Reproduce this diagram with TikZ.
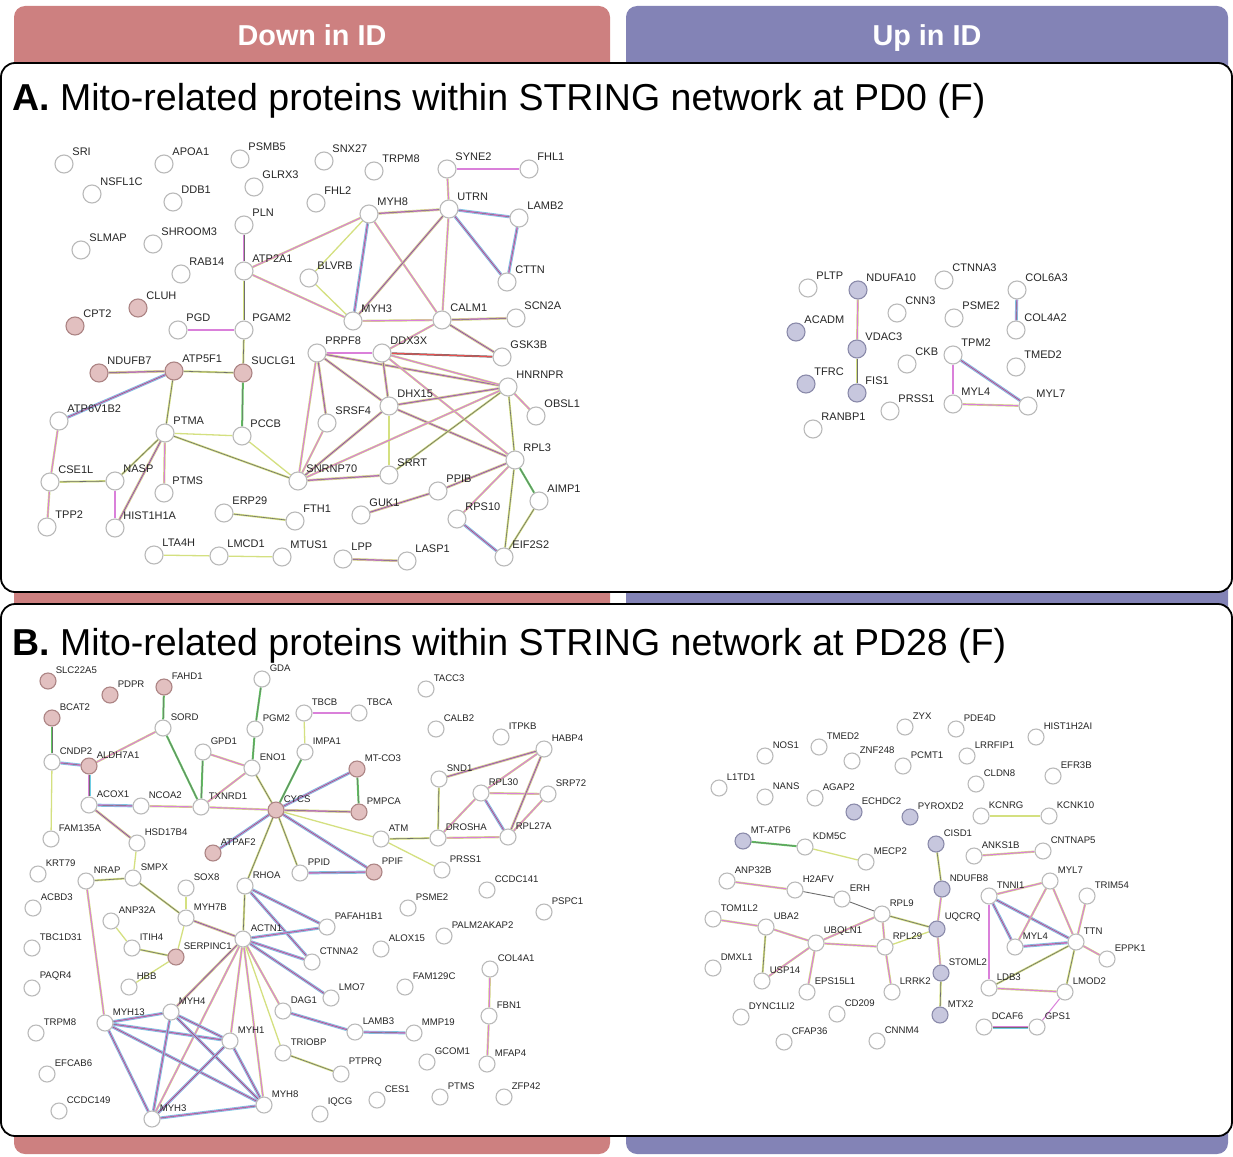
\documentclass[tikz,border=0pt]{standalone}
\usepackage{fontspec}
\setmainfont{Liberation Sans}
\usepackage{xcolor}
\definecolor{DownC}{RGB}{205,128,128}
\definecolor{UpC}{RGB}{131,131,182}
\definecolor{DownF}{RGB}{226,192,192}
\definecolor{DownL}{RGB}{172,132,132}
\definecolor{UpF}{RGB}{199,199,222}
\definecolor{UpL}{RGB}{138,138,170}
\definecolor{Txt}{RGB}{212,224,128}
\definecolor{Exp}{RGB}{218,128,218}
\definecolor{Coe}{RGB}{110,110,110}
\definecolor{Dbs}{RGB}{110,205,228}
\definecolor{Nbh}{RGB}{95,200,95}
\definecolor{Fus}{RGB}{232,80,80}
\usepackage{tikz}
\pgfdeclarelayer{back}
\pgfdeclarelayer{links}
\pgfsetlayers{back,links,main}
\tikzstyle{Prot}=[circle,draw=black!27,fill=white,line width=1.1pt,inner sep=0pt,
minimum size=18pt]
\tikzstyle{ProtD}=[Prot,draw=DownL,fill=DownF]
\tikzstyle{ProtU}=[Prot,draw=UpL,fill=UpF]
\tikzstyle{Lab}=[inner sep=0.8pt,label distance=1pt,text=black!85,
font=\fontsize{11}{11}\selectfont]
\tikzstyle{EdgeT}=[draw=Txt,line width=1.3pt]
\tikzstyle{EdgeG}=[draw=Txt,line width=2pt,postaction={draw=Coe,line width=0.6pt}]
\tikzstyle{EdgeM}=[draw=Txt,line width=2.2pt,postaction={draw=Exp,line width=1.1pt}]
\tikzstyle{EdgeF}=[draw=Txt,line width=2.6pt,postaction={draw=Exp,line width=1.5pt},
postaction={draw=Coe,line width=0.45pt}]
\tikzstyle{EdgeC}=[draw=Dbs,line width=3pt,postaction={draw=Exp,line width=1.8pt},
postaction={draw=Coe,line width=0.45pt}]
\tikzstyle{EdgeN}=[draw=Nbh,line width=2pt,postaction={draw=Coe,line width=0.5pt}]
\tikzstyle{EdgeR}=[draw=Coe,line width=2pt,postaction={draw=Fus,line width=1.1pt}]
\tikzstyle{Column}=[rounded corners=11pt]
\tikzstyle{Panel}=[draw=black,fill=white,line width=1.8pt,rounded corners=14pt]
\tikzstyle{Head}=[anchor=base,text=white,font=\fontsize{28.8}{30}\selectfont\bfseries]
\tikzstyle{Title}=[anchor=base west,inner sep=0pt,font=\fontsize{37.5}{40}\selectfont]

\begin{document}
\begin{tikzpicture}[x=1pt,y=-1pt]
    \useasboundingbox(0,0)rectangle(1233,1156);
    % group columns behind the two panels
    \begin{pgfonlayer}{back}
    \fill[Column,DownC](14,6)rectangle(610,1154);
    \fill[Column,UpC](626,6)rectangle(1228,1154);
    \draw[Panel](1,63)rectangle(1232,592);
    \draw[Panel](1,604)rectangle(1232,1136);
    \end{pgfonlayer}
    \node[Head](hdDown)at(312,46){Down in ID};
    \node[Head](hdUp)at(927,46){Up in ID};
    \node[Title](ttlA)at(12,110){\textbf{A.} Mito-related proteins within STRING network at PD0 (F)};
    \node[Title](ttlB)at(12,655){\textbf{B.} Mito-related proteins within STRING network at PD28 (F)};

    % ---- panel A, left network
        \node[Prot,label={[Lab]45:SRI}](aSRI)at(64,164){};
        \node[Prot,label={[Lab]45:APOA1}](aAPOA1)at(164,164){};
        \node[Prot,label={[Lab]45:PSMB5}](aPSMB5)at(240,159){};
        \node[Prot,label={[Lab]45:NSFL1C}](aNSFL1C)at(92,194){};
        \node[Prot,label={[Lab]45:DDB1}](aDDB1)at(173,202){};
        \node[Prot,label={[Lab]45:GLRX3}](aGLRX3)at(254,187){};
        \node[Prot,label={[Lab]45:PLN}](aPLN)at(244,225){};
        \node[Prot,label={[Lab]45:SLMAP}](aSLMAP)at(81,250){};
        \node[Prot,label={[Lab]45:SHROOM3}](aSHROOM3)at(153,244){};
        \node[Prot,label={[Lab]45:RAB14}](aRAB14)at(181,274){};
        \node[Prot,label={[Lab]45:ATP2A1}](aATP2A1)at(244,271){};
        \node[ProtD,label={[Lab]45:CLUH}](aCLUH)at(138,308){};
        \node[ProtD,label={[Lab]45:CPT2}](aCPT2)at(75,326){};
        \node[Prot,label={[Lab]45:PGD}](aPGD)at(178,330){};
        \node[Prot,label={[Lab]45:PGAM2}](aPGAM2)at(244,330){};
        \node[Prot,label={[Lab]45:SNX27}](aSNX27)at(324,161){};
        \node[Prot,label={[Lab]45:TRPM8}](aTRPM8)at(374,171){};
        \node[Prot,label={[Lab]45:SYNE2}](aSYNE2)at(447,169){};
        \node[Prot,label={[Lab]45:FHL1}](aFHL1)at(529,169){};
        \node[Prot,label={[Lab]45:FHL2}](aFHL2)at(316,203){};
        \node[Prot,label={[Lab]45:MYH8}](aMYH8)at(369,214){};
        \node[Prot,label={[Lab]45:UTRN}](aUTRN)at(449,209){};
        \node[Prot,label={[Lab]45:LAMB2}](aLAMB2)at(519,218){};
        \node[Prot,label={[Lab]45:BLVRB}](aBLVRB)at(309,278){};
        \node[Prot,label={[Lab]45:CTTN}](aCTTN)at(507,282){};
        \node[Prot,label={[Lab]45:MYH3}](aMYH3)at(353,321){};
        \node[Prot,label={[Lab]45:CALM1}](aCALM1)at(442,320){};
        \node[Prot,label={[Lab]45:SCN2A}](aSCN2A)at(516,318){};
        \node[ProtD,label={[Lab]45:NDUFB7}](aNDUFB7)at(99,373){};
        \node[ProtD,label={[Lab]45:ATP5F1}](aATP5F1)at(174,371){};
        \node[ProtD,label={[Lab]45:SUCLG1}](aSUCLG1)at(243,373){};
        \node[Prot,label={[Lab]45:ATP6V1B2}](aATP6V1B2)at(59,421){};
        \node[Prot,label={[Lab]45:PTMA}](aPTMA)at(165,433){};
        \node[Prot,label={[Lab]45:PCCB}](aPCCB)at(242,436){};
        \node[Prot,label={[Lab]45:CSE1L}](aCSE1L)at(50,482){};
        \node[Prot,label={[Lab]45:NASP}](aNASP)at(115,481){};
        \node[Prot,label={[Lab]45:PTMS}](aPTMS)at(164,493){};
        \node[Prot,label={[Lab]45:SNRNP70}](aSNRNP70)at(298,481){};
        \node[Prot,label={[Lab]45:ERP29}](aERP29)at(224,513){};
        \node[Prot,label={[Lab]45:FTH1}](aFTH1)at(295,521){};
        \node[Prot,label={[Lab]45:TPP2}](aTPP2)at(47,527){};
        \node[Prot,label={[Lab]45:HIST1H1A}](aHIST1H1A)at(115,528){};
        \node[Prot,label={[Lab]45:LTA4H}](aLTA4H)at(154,555){};
        \node[Prot,label={[Lab]45:LMCD1}](aLMCD1)at(219,556){};
        \node[Prot,label={[Lab]45:MTUS1}](aMTUS1)at(282,557){};
        \node[Prot,label={[Lab]45:PRPF8}](aPRPF8)at(317,353){};
        \node[Prot,label={[Lab]45:DDX3X}](aDDX3X)at(382,353){};
        \node[Prot,label={[Lab]45:GSK3B}](aGSK3B)at(502,357){};
        \node[Prot,label={[Lab]45:HNRNPR}](aHNRNPR)at(508,387){};
        \node[Prot,label={[Lab]45:DHX15}](aDHX15)at(389,406){};
        \node[Prot,label={[Lab]45:OBSL1}](aOBSL1)at(536,416){};
        \node[Prot,label={[Lab]45:SRSF4}](aSRSF4)at(327,423){};
        \node[Prot,label={[Lab]45:RPL3}](aRPL3)at(515,460){};
        \node[Prot,label={[Lab]45:SRRT}](aSRRT)at(389,475){};
        \node[Prot,label={[Lab]45:PPIB}](aPPIB)at(438,491){};
        \node[Prot,label={[Lab]45:AIMP1}](aAIMP1)at(539,501){};
        \node[Prot,label={[Lab]45:GUK1}](aGUK1)at(361,515){};
        \node[Prot,label={[Lab]45:RPS10}](aRPS10)at(457,519){};
        \node[Prot,label={[Lab]45:LPP}](aLPP)at(343,559){};
        \node[Prot,label={[Lab]45:LASP1}](aLASP1)at(407,561){};
        \node[Prot,label={[Lab]45:EIF2S2}](aEIF2S2)at(504,557){};
    % ---- panel A, right network
        \node[Prot,label={[Lab]45:PLTP}](aPLTP)at(808,288){};
        \node[ProtU,label={[Lab]45:NDUFA10}](aNDUFA10)at(858,290){};
        \node[Prot,label={[Lab]45:CTNNA3}](aCTNNA3)at(944,280){};
        \node[Prot,label={[Lab]45:COL6A3}](aCOL6A3)at(1017,290){};
        \node[Prot,label={[Lab]45:CNN3}](aCNN3)at(897,313){};
        \node[Prot,label={[Lab]45:PSME2}](aPSME2)at(954,318){};
        \node[Prot,label={[Lab]45:COL4A2}](aCOL4A2)at(1016,330){};
        \node[ProtU,label={[Lab]45:ACADM}](aACADM)at(796,332){};
        \node[ProtU,label={[Lab]45:VDAC3}](aVDAC3)at(857,349){};
        \node[Prot,label={[Lab]45:CKB}](aCKB)at(907,364){};
        \node[Prot,label={[Lab]45:TPM2}](aTPM2)at(953,355){};
        \node[Prot,label={[Lab]45:TMED2}](aTMED2)at(1016,367){};
        \node[ProtU,label={[Lab]45:TFRC}](aTFRC)at(806,384){};
        \node[ProtU,label={[Lab]45:FIS1}](aFIS1)at(857,393){};
        \node[Prot,label={[Lab]45:PRSS1}](aPRSS1)at(890,411){};
        \node[Prot,label={[Lab]45:MYL4}](aMYL4)at(953,404){};
        \node[Prot,label={[Lab]45:MYL7}](aMYL7)at(1028,406){};
        \node[Prot,label={[Lab]45:RANBP1}](aRANBP1)at(813,429){};
    % panel A links
    \begin{pgfonlayer}{links}
        \draw[EdgeF](aPLN)--(aATP2A1);
        \draw[EdgeG](aATP2A1)--(aPGAM2);
        \draw[EdgeM](aATP2A1)--(aMYH8);
        \draw[EdgeM](aATP2A1)--(aMYH3);
        \draw[EdgeM](aPGD)--(aPGAM2);
        \draw[EdgeG](aPGAM2)--(aSUCLG1);
        \draw[EdgeF](aNDUFB7)--(aATP5F1);
        \draw[EdgeG](aATP5F1)--(aSUCLG1);
        \draw[EdgeC](aATP5F1)--(aATP6V1B2);
        \draw[EdgeG](aATP5F1)--(aPTMA);
        \draw[EdgeN](aSUCLG1)--(aPCCB);
        \draw[EdgeM](aATP6V1B2)--(aCSE1L);
        \draw[EdgeM](aCSE1L)--(aTPP2);
        \draw[EdgeG](aCSE1L)--(aNASP);
        \draw[EdgeM](aNASP)--(aHIST1H1A);
        \draw[EdgeG](aNASP)--(aPTMA);
        \draw[EdgeF](aPTMA)--(aHIST1H1A);
        \draw[EdgeM](aPTMA)--(aPTMS);
        \draw[EdgeT](aPTMA)--(aPCCB);
        \draw[EdgeG](aPTMA)--(aSNRNP70);
        \draw[EdgeT](aPCCB)--(aSNRNP70);
        \draw[EdgeG](aERP29)--(aFTH1);
        \draw[EdgeT](aLTA4H)--(aLMCD1);
        \draw[EdgeT](aLMCD1)--(aMTUS1);
        \draw[EdgeF](aLPP)--(aLASP1);
        \draw[EdgeF](aGUK1)--(aPPIB);
        \draw[EdgeF](aPPIB)--(aRPL3);
        \draw[EdgeM](aSYNE2)--(aFHL1);
        \draw[EdgeM](aSYNE2)--(aUTRN);
        \draw[EdgeF](aMYH8)--(aUTRN);
        \draw[EdgeC](aUTRN)--(aLAMB2);
        \draw[EdgeC](aUTRN)--(aCTTN);
        \draw[EdgeC](aLAMB2)--(aCTTN);
        \draw[EdgeT](aMYH8)--(aBLVRB);
        \draw[EdgeT](aBLVRB)--(aMYH3);
        \draw[EdgeC](aMYH8)--(aMYH3);
        \draw[EdgeM](aMYH8)--(aCALM1);
        \draw[EdgeF](aUTRN)--(aMYH3);
        \draw[EdgeM](aUTRN)--(aCALM1);
        \draw[EdgeM](aMYH3)--(aCALM1);
        \draw[EdgeF](aCALM1)--(aSCN2A);
        \draw[EdgeF](aCALM1)--(aGSK3B);
        \draw[EdgeM](aCALM1)--(aDDX3X);
        \draw[EdgeR](aDDX3X)--(aGSK3B);
        \draw[EdgeM](aPRPF8)--(aDDX3X);
        \draw[EdgeF](aPRPF8)--(aHNRNPR);
        \draw[EdgeF](aPRPF8)--(aDHX15);
        \draw[EdgeF](aPRPF8)--(aSRSF4);
        \draw[EdgeM](aPRPF8)--(aSNRNP70);
        \draw[EdgeM](aDDX3X)--(aHNRNPR);
        \draw[EdgeF](aDDX3X)--(aDHX15);
        \draw[EdgeM](aDDX3X)--(aRPL3);
        \draw[EdgeF](aDHX15)--(aHNRNPR);
        \draw[EdgeF](aDHX15)--(aRPL3);
        \draw[EdgeT](aDHX15)--(aSRRT);
        \draw[EdgeF](aDHX15)--(aSNRNP70);
        \draw[EdgeM](aSRSF4)--(aSNRNP70);
        \draw[EdgeM](aSNRNP70)--(aHNRNPR);
        \draw[EdgeF](aSNRNP70)--(aSRRT);
        \draw[EdgeG](aSRRT)--(aHNRNPR);
        \draw[EdgeM](aHNRNPR)--(aOBSL1);
        \draw[EdgeG](aHNRNPR)--(aRPL3);
        \draw[EdgeM](aRPL3)--(aRPS10);
        \draw[EdgeG](aRPL3)--(aEIF2S2);
        \draw[EdgeN](aRPL3)--(aAIMP1);
        \draw[EdgeC](aRPS10)--(aEIF2S2);
        \draw[EdgeG](aAIMP1)--(aEIF2S2);
        \draw[EdgeM](aNDUFA10)--(aVDAC3);
        \draw[EdgeG](aVDAC3)--(aFIS1);
        \draw[EdgeC](aCOL6A3)--(aCOL4A2);
        \draw[EdgeM](aTPM2)--(aMYL4);
        \draw[EdgeC](aTPM2)--(aMYL7);
        \draw[EdgeM](aMYL4)--(aMYL7);
    \end{pgfonlayer}

    % ---- panel B (smaller nodes and labels)
    \begin{scope}[Prot/.append style={minimum size=16pt},
        Lab/.append style={font=\fontsize{9.6}{10}\selectfont}]
        \node[ProtD,label={[Lab]45:SLC22A5}](bSLC22A5)at(48,681){};
        \node[ProtD,label={[Lab]45:PDPR}](bPDPR)at(110,695){};
        \node[ProtD,label={[Lab]45:FAHD1}](bFAHD1)at(164,687){};
        \node[Prot,label={[Lab]45:GDA}](bGDA)at(262,679){};
        \node[ProtD,label={[Lab]45:BCAT2}](bBCAT2)at(52,718){};
        \node[Prot,label={[Lab]45:SORD}](bSORD)at(163,728){};
        \node[Prot,label={[Lab]45:PGM2}](bPGM2)at(255,729){};
        \node[Prot,label={[Lab]45:TBCB}](bTBCB)at(304,713){};
        \node[Prot,label={[Lab]45:TBCA}](bTBCA)at(359,713){};
        \node[Prot,label={[Lab]45:TACC3}](bTACC3)at(426,689){};
        \node[Prot,label={[Lab]45:CALB2}](bCALB2)at(436,729){};
        \node[Prot,label={[Lab]45:ITPKB}](bITPKB)at(501,737){};
        \node[Prot,label={[Lab]45:HABP4}](bHABP4)at(544,749){};
        \node[Prot,label={[Lab]45:GPD1}](bGPD1)at(203,752){};
        \node[Prot,label={[Lab]45:IMPA1}](bIMPA1)at(305,752){};
        \node[Prot,label={[Lab]45:CNDP2}](bCNDP2)at(52,762){};
        \node[ProtD,label={[Lab]45:ALDH7A1}](bALDH7A1)at(89,766){};
        \node[Prot,label={[Lab]45:ENO1}](bENO1)at(252,768){};
        \node[ProtD,label={[Lab]45:MT-CO3}](bMTCO3)at(357,769){};
        \node[Prot,label={[Lab]45:SND1}](bSND1)at(439,779){};
        \node[Prot,label={[Lab]45:RPL30}](bRPL30)at(481,793){};
        \node[Prot,label={[Lab]45:SRP72}](bSRP72)at(548,794){};
        \node[Prot,label={[Lab]45:ACOX1}](bACOX1)at(89,805){};
        \node[Prot,label={[Lab]45:NCOA2}](bNCOA2)at(141,806){};
        \node[Prot,label={[Lab]45:TXNRD1}](bTXNRD1)at(201,807){};
        \node[ProtD,label={[Lab]45:CYCS}](bCYCS)at(276,810){};
        \node[ProtD,label={[Lab]45:PMPCA}](bPMPCA)at(359,812){};
        \node[Prot,label={[Lab]45:ATM}](bATM)at(381,839){};
        \node[Prot,label={[Lab]45:DROSHA}](bDROSHA)at(438,838){};
        \node[Prot,label={[Lab]45:RPL27A}](bRPL27A)at(508,837){};
        \node[Prot,label={[Lab]45:FAM135A}](bFAM135A)at(51,839){};
        \node[Prot,label={[Lab]45:HSD17B4}](bHSD17B4)at(137,843){};
        \node[ProtD,label={[Lab]45:ATPAF2}](bATPAF2)at(213,853){};
        \node[Prot,label={[Lab]45:KRT79}](bKRT79)at(38,874){};
        \node[Prot,label={[Lab]45:NRAP}](bNRAP)at(86,881){};
        \node[Prot,label={[Lab]45:SMPX}](bSMPX)at(133,878){};
        \node[Prot,label={[Lab]45:SOX8}](bSOX8)at(186,888){};
        \node[Prot,label={[Lab]45:RHOA}](bRHOA)at(245,886){};
        \node[Prot,label={[Lab]45:PPID}](bPPID)at(300,873){};
        \node[ProtD,label={[Lab]45:PPIF}](bPPIF)at(374,872){};
        \node[Prot,label={[Lab]45:PRSS1}](bPRSS1)at(442,870){};
        \node[Prot,label={[Lab]45:CCDC141}](bCCDC141)at(487,890){};
        \node[Prot,label={[Lab]45:ACBD3}](bACBD3)at(33,908){};
        \node[Prot,label={[Lab]45:PSME2}](bPSME2)at(408,908){};
        \node[Prot,label={[Lab]45:PSPC1}](bPSPC1)at(544,912){};
        \node[Prot,label={[Lab]45:ANP32A}](bANP32A)at(111,921){};
        \node[Prot,label={[Lab]45:MYH7B}](bMYH7B)at(186,918){};
        \node[Prot,label={[Lab]45:ACTN1}](bACTN1)at(243,939){};
        \node[Prot,label={[Lab]45:PAFAH1B1}](bPAFAH1B1)at(327,927){};
        \node[Prot,label={[Lab]45:PALM2AKAP2}](bPALM2AKAP2)at(444,936){};
        \node[Prot,label={[Lab]45:TBC1D31}](bTBC1D31)at(32,948){};
        \node[Prot,label={[Lab]45:ITIH4}](bITIH4)at(132,948){};
        \node[ProtD,label={[Lab]45:SERPINC1}](bSERPINC1)at(176,957){};
        \node[Prot,label={[Lab]45:ALOX15}](bALOX15)at(381,949){};
        \node[Prot,label={[Lab]45:CTNNA2}](bCTNNA2)at(312,962){};
        \node[Prot,label={[Lab]45:COL4A1}](bCOL4A1)at(490,969){};
        \node[Prot,label={[Lab]45:HBB}](bHBB)at(129,987){};
        \node[Prot,label={[Lab]45:PAQR4}](bPAQR4)at(32,988){};
        \node[Prot,label={[Lab]45:FAM129C}](bFAM129C)at(405,987){};
        \node[Prot,label={[Lab]45:LMO7}](bLMO7)at(331,998){};
        \node[Prot,label={[Lab]45:DAG1}](bDAG1)at(283,1011){};
        \node[Prot,label={[Lab]45:MYH4}](bMYH4)at(171,1012){};
        \node[Prot,label={[Lab]45:MYH13}](bMYH13)at(105,1023){};
        \node[Prot,label={[Lab]45:FBN1}](bFBN1)at(489,1016){};
        \node[Prot,label={[Lab]45:TRPM8}](bTRPM8)at(36,1033){};
        \node[Prot,label={[Lab]45:LAMB3}](bLAMB3)at(355,1032){};
        \node[Prot,label={[Lab]45:MMP19}](bMMP19)at(414,1033){};
        \node[Prot,label={[Lab]45:MYH1}](bMYH1)at(230,1041){};
        \node[Prot,label={[Lab]45:TRIOBP}](bTRIOBP)at(283,1053){};
        \node[Prot,label={[Lab]45:GCOM1}](bGCOM1)at(427,1062){};
        \node[Prot,label={[Lab]45:MFAP4}](bMFAP4)at(487,1064){};
        \node[Prot,label={[Lab]45:EFCAB6}](bEFCAB6)at(47,1074){};
        \node[Prot,label={[Lab]45:PTPRQ}](bPTPRQ)at(341,1074){};
        \node[Prot,label={[Lab]45:PTMS}](bPTMS)at(440,1097){};
        \node[Prot,label={[Lab]45:ZFP42}](bZFP42)at(504,1097){};
        \node[Prot,label={[Lab]45:CES1}](bCES1)at(377,1100){};
        \node[Prot,label={[Lab]45:MYH8}](bMYH8)at(264,1105){};
        \node[Prot,label={[Lab]45:CCDC149}](bCCDC149)at(59,1111){};
        \node[Prot,label={[Lab]45:IQCG}](bIQCG)at(320,1114){};
        \node[Prot,label={[Lab]45:MYH3}](bMYH3)at(152,1119){};
    % ---- panel B, right network
        \node[Prot,label={[Lab]45:ZYX}](bZYX)at(905,727){};
        \node[Prot,label={[Lab]45:PDE4D}](bPDE4D)at(956,729){};
        \node[Prot,label={[Lab]45:TMED2}](bTMED2)at(819,747){};
        \node[Prot,label={[Lab]45:NOS1}](bNOS1)at(765,756){};
        \node[Prot,label={[Lab]45:ZNF248}](bZNF248)at(852,761){};
        \node[Prot,label={[Lab]45:PCMT1}](bPCMT1)at(903,766){};
        \node[Prot,label={[Lab]45:LRRFIP1}](bLRRFIP1)at(967,756){};
        \node[Prot,label={[Lab]45:HIST1H2AI}](bHIST1H2AI)at(1036,737){};
        \node[Prot,label={[Lab]45:L1TD1}](bL1TD1)at(719,788){};
        \node[Prot,label={[Lab]45:NANS}](bNANS)at(765,797){};
        \node[Prot,label={[Lab]45:AGAP2}](bAGAP2)at(815,798){};
        \node[Prot,label={[Lab]45:CLDN8}](bCLDN8)at(976,784){};
        \node[Prot,label={[Lab]45:EFR3B}](bEFR3B)at(1053,776){};
        \node[ProtU,label={[Lab]45:ECHDC2}](bECHDC2)at(854,812){};
        \node[ProtU,label={[Lab]45:PYROXD2}](bPYROXD2)at(910,817){};
        \node[Prot,label={[Lab]45:KCNRG}](bKCNRG)at(981,816){};
        \node[Prot,label={[Lab]45:KCNK10}](bKCNK10)at(1049,816){};
        \node[ProtU,label={[Lab]45:MT-ATP6}](bMTATP6)at(743,841){};
        \node[Prot,label={[Lab]45:KDM5C}](bKDM5C)at(805,847){};
        \node[ProtU,label={[Lab]45:CISD1}](bCISD1)at(936,844){};
        \node[Prot,label={[Lab]45:MECP2}](bMECP2)at(866,862){};
        \node[Prot,label={[Lab]45:ANKS1B}](bANKS1B)at(974,856){};
        \node[Prot,label={[Lab]45:CNTNAP5}](bCNTNAP5)at(1043,851){};
        \node[Prot,label={[Lab]45:ANP32B}](bANP32B)at(727,881){};
        \node[Prot,label={[Lab]45:H2AFV}](bH2AFV)at(795,890){};
        \node[Prot,label={[Lab]45:ERH}](bERH)at(842,899){};
        \node[ProtU,label={[Lab]45:NDUFB8}](bNDUFB8)at(942,889){};
        \node[Prot,label={[Lab]45:TNNI1}](bTNNI1)at(989,896){};
        \node[Prot,label={[Lab]45:MYL7}](bMYL7)at(1050,881){};
        \node[Prot,label={[Lab]45:TRIM54}](bTRIM54)at(1087,896){};
        \node[Prot,label={[Lab]45:RPL9}](bRPL9)at(882,914){};
        \node[Prot,label={[Lab]45:TOM1L2}](bTOM1L2)at(713,919){};
        \node[Prot,label={[Lab]45:UBA2}](bUBA2)at(766,927){};
        \node[ProtU,label={[Lab]45:UQCRQ}](bUQCRQ)at(937,929){};
        \node[Prot,label={[Lab]45:UBQLN1}](bUBQLN1)at(816,943){};
        \node[Prot,label={[Lab]45:RPL29}](bRPL29)at(885,947){};
        \node[Prot,label={[Lab]45:TTN}](bTTN)at(1076,942){};
        \node[Prot,label={[Lab]45:MYL4}](bMYL4)at(1015,947){};
        \node[Prot,label={[Lab]45:EPPK1}](bEPPK1)at(1107,959){};
        \node[Prot,label={[Lab]45:DMXL1}](bDMXL1)at(713,968){};
        \node[ProtU,label={[Lab]45:STOML2}](bSTOML2)at(941,973){};
        \node[Prot,label={[Lab]45:USP14}](bUSP14)at(762,981){};
        \node[Prot,label={[Lab]45:EPS15L1}](bEPS15L1)at(807,992){};
        \node[Prot,label={[Lab]45:LRRK2}](bLRRK2)at(892,992){};
        \node[Prot,label={[Lab]45:LDB3}](bLDB3)at(989,988){};
        \node[Prot,label={[Lab]45:LMOD2}](bLMOD2)at(1065,992){};
        \node[Prot,label={[Lab]45:CD209}](bCD209)at(837,1014){};
        \node[Prot,label={[Lab]45:DYNC1LI2}](bDYNC1LI2)at(741,1017){};
        \node[ProtU,label={[Lab]45:MTX2}](bMTX2)at(940,1015){};
        \node[Prot,label={[Lab]45:DCAF6}](bDCAF6)at(984,1027){};
        \node[Prot,label={[Lab]45:GPS1}](bGPS1)at(1037,1027){};
        \node[Prot,label={[Lab]45:CFAP36}](bCFAP36)at(784,1042){};
        \node[Prot,label={[Lab]45:CNNM4}](bCNNM4)at(877,1041){};
    \end{scope}
    % panel B links
    \begin{pgfonlayer}{links}
        \draw[EdgeN](bFAHD1)--(bSORD);
        \draw[EdgeN](bBCAT2)--(bCNDP2);
        \draw[EdgeC](bCNDP2)--(bALDH7A1);
        \draw[EdgeT](bCNDP2)--(bFAM135A);
        \draw[EdgeM](bALDH7A1)--(bSORD);
        \draw[EdgeC](bALDH7A1)--(bACOX1);
        \draw[EdgeC](bACOX1)--(bNCOA2);
        \draw[EdgeF](bACOX1)--(bHSD17B4);
        \draw[EdgeM](bNCOA2)--(bTXNRD1);
        \draw[EdgeN](bSORD)--(bTXNRD1);
        \draw[EdgeN](bGPD1)--(bTXNRD1);
        \draw[EdgeM](bGPD1)--(bENO1);
        \draw[EdgeM](bENO1)--(bTXNRD1);
        \draw[EdgeG](bENO1)--(bCYCS);
        \draw[EdgeN](bGDA)--(bPGM2);
        \draw[EdgeN](bPGM2)--(bENO1);
        \draw[EdgeM](bTBCB)--(bTBCA);
        \draw[EdgeT](bTBCB)--(bIMPA1);
        \draw[EdgeN](bIMPA1)--(bCYCS);
        \draw[EdgeM](bTXNRD1)--(bCYCS);
        \draw[EdgeC](bCYCS)--(bMTCO3);
        \draw[EdgeF](bCYCS)--(bPMPCA);
        \draw[EdgeN](bMTCO3)--(bPMPCA);
        \draw[EdgeT](bCYCS)--(bATM);
        \draw[EdgeC](bCYCS)--(bPPIF);
        \draw[EdgeG](bCYCS)--(bPPID);
        \draw[EdgeG](bCYCS)--(bRHOA);
        \draw[EdgeC](bATPAF2)--(bCYCS);
        \draw[EdgeT](bATM)--(bPRSS1);
        \draw[EdgeG](bATM)--(bDROSHA);
        \draw[EdgeG](bSND1)--(bDROSHA);
        \draw[EdgeF](bSND1)--(bHABP4);
        \draw[EdgeM](bDROSHA)--(bRPL30);
        \draw[EdgeM](bDROSHA)--(bRPL27A);
        \draw[EdgeM](bRPL30)--(bSRP72);
        \draw[EdgeC](bRPL30)--(bRPL27A);
        \draw[EdgeM](bRPL30)--(bHABP4);
        \draw[EdgeF](bHABP4)--(bRPL27A);
        \draw[EdgeM](bSRP72)--(bRPL27A);
        \draw[EdgeC](bPPID)--(bPPIF);
        \draw[EdgeG](bRHOA)--(bACTN1);
        \draw[EdgeC](bRHOA)--(bPAFAH1B1);
        \draw[EdgeC](bRHOA)--(bCTNNA2);
        \draw[EdgeC](bACTN1)--(bPAFAH1B1);
        \draw[EdgeC](bACTN1)--(bCTNNA2);
        \draw[EdgeC](bACTN1)--(bLMO7);
        \draw[EdgeM](bACTN1)--(bDAG1);
        \draw[EdgeT](bACTN1)--(bTRIOBP);
        \draw[EdgeC](bDAG1)--(bLAMB3);
        \draw[EdgeG](bTRIOBP)--(bPTPRQ);
        \draw[EdgeC](bLAMB3)--(bMMP19);
        \draw[EdgeM](bCOL4A1)--(bFBN1);
        \draw[EdgeM](bFBN1)--(bMFAP4);
        \draw[EdgeG](bSMPX)--(bNRAP);
        \draw[EdgeT](bHSD17B4)--(bSMPX);
        \draw[EdgeG](bSMPX)--(bMYH7B);
        \draw[EdgeM](bNRAP)--(bMYH13);
        \draw[EdgeF](bMYH7B)--(bACTN1);
        \draw[EdgeT](bSOX8)--(bMYH7B);
        \draw[EdgeT](bMYH7B)--(bSERPINC1);
        \draw[EdgeT](bANP32A)--(bITIH4);
        \draw[EdgeG](bITIH4)--(bSERPINC1);
        \draw[EdgeT](bHBB)--(bSERPINC1);
        \draw[EdgeF](bACTN1)--(bMYH4);
        \draw[EdgeM](bACTN1)--(bMYH1);
        \draw[EdgeM](bACTN1)--(bMYH3);
        \draw[EdgeM](bACTN1)--(bMYH8);
        % myosin heavy chain clique
        \draw[EdgeC](bMYH13)--(bMYH4);
        \draw[EdgeC](bMYH13)--(bMYH1);
        \draw[EdgeC](bMYH13)--(bMYH3);
        \draw[EdgeC](bMYH13)--(bMYH8);
        \draw[EdgeC](bMYH4)--(bMYH1);
        \draw[EdgeC](bMYH4)--(bMYH3);
        \draw[EdgeC](bMYH4)--(bMYH8);
        \draw[EdgeC](bMYH1)--(bMYH3);
        \draw[EdgeC](bMYH1)--(bMYH8);
        \draw[EdgeC](bMYH3)--(bMYH8);
        % right network
        \draw[EdgeN](bMTATP6)--(bKDM5C);
        \draw[EdgeT](bKDM5C)--(bMECP2);
        \draw[EdgeT](bKCNRG)--(bKCNK10);
        \draw[EdgeM](bANKS1B)--(bCNTNAP5);
        \draw[EdgeM](bANP32B)--(bH2AFV);
        \draw[Coe,line width=0.9pt](bH2AFV)--(bERH);
        \draw[Coe,line width=0.9pt](bERH)--(bRPL9);
        \draw[EdgeG](bCISD1)--(bNDUFB8);
        \draw[EdgeM](bNDUFB8)--(bUQCRQ);
        \draw[EdgeM](bUQCRQ)--(bSTOML2);
        \draw[EdgeG](bSTOML2)--(bMTX2);
        \draw[EdgeG](bRPL9)--(bUQCRQ);
        \draw[EdgeM](bRPL9)--(bUBQLN1);
        \draw[EdgeM](bRPL9)--(bRPL29);
        \draw[EdgeT](bRPL29)--(bUQCRQ);
        \draw[EdgeM](bRPL29)--(bUBQLN1);
        \draw[EdgeM](bRPL29)--(bLRRK2);
        \draw[EdgeM](bTOM1L2)--(bUBA2);
        \draw[EdgeM](bUBA2)--(bUBQLN1);
        \draw[EdgeG](bUBA2)--(bUSP14);
        \draw[EdgeM](bUBQLN1)--(bUSP14);
        \draw[EdgeM](bUBQLN1)--(bEPS15L1);
        \draw[EdgeM](bTNNI1)--(bMYL7);
        \draw[EdgeC](bTNNI1)--(bMYL4);
        \draw[EdgeC](bTNNI1)--(bTTN);
        \draw[EdgeM](bTNNI1)--(bLDB3);
        \draw[EdgeM](bMYL7)--(bMYL4);
        \draw[EdgeM](bMYL7)--(bTTN);
        \draw[EdgeC](bMYL4)--(bTTN);
        \draw[EdgeM](bTRIM54)--(bTTN);
        \draw[EdgeM](bTTN)--(bEPPK1);
        \draw[EdgeG](bTTN)--(bLDB3);
        \draw[EdgeG](bTTN)--(bLMOD2);
        \draw[EdgeM](bLDB3)--(bLMOD2);
        \draw[Exp,line width=1pt](bLMOD2)--(bGPS1);
        \draw[EdgeC](bDCAF6)--(bGPS1);
    \end{pgfonlayer}
\end{tikzpicture}
\end{document}
